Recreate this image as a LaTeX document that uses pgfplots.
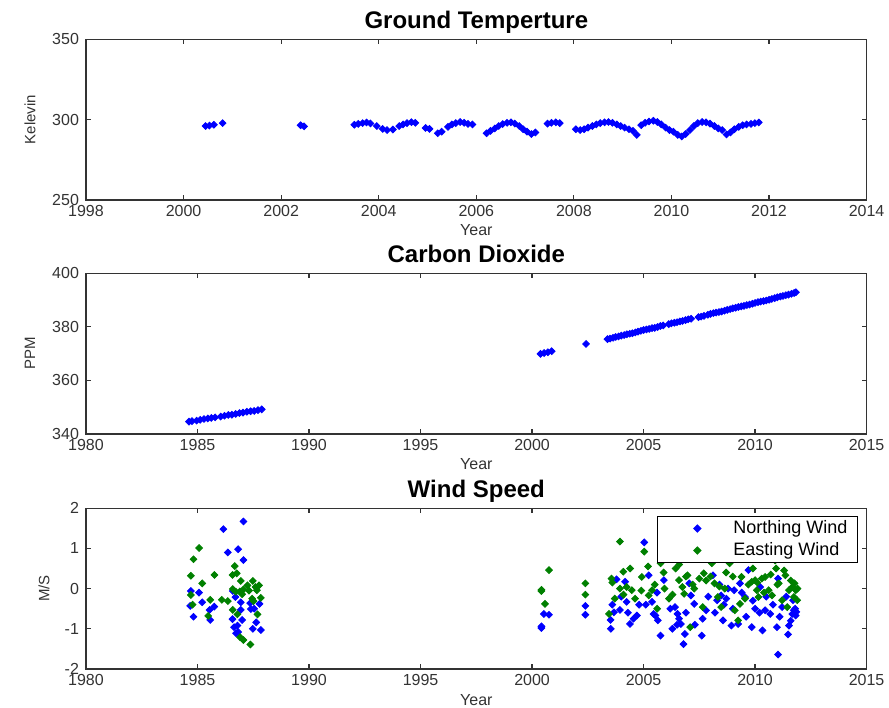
\documentclass[border=0pt]{standalone}
\usepackage{fontspec}
\setmainfont{Liberation Sans}
\usepackage{pgfplots}
\pgfplotsset{compat=1.18}

\definecolor{mblue}{rgb}{0,0,1}
\definecolor{mgreen}{rgb}{0,0.5,0}
\definecolor{axgray}{rgb}{0.2,0.2,0.2}

\pgfplotsset{
  every axis title shift=0pt,
  mstyle/.style={
    scale only axis, width=390.3pt, height=80.4pt, anchor=south west,
    axis line style={axgray, line width=0.6pt},
    tick style={axgray, line width=0.6pt},
    major tick length=2.5pt,
    tick align=inside,
    minor tick num=0,
    tick label style={font=\fontsize{8}{9}\selectfont, text=axgray},
    /pgf/number format/assume math mode=true,
    /pgf/number format/1000 sep={},
    xticklabel style={anchor=base, yshift=-8.5pt},
    xlabel={Year},
    xlabel style={at={(axis description cs:0.5,0)}, anchor=base, yshift=-18pt, font=\fontsize{8}{9}\selectfont, text=axgray},
    ylabel style={font=\fontsize{7.5}{9}\selectfont, text=axgray},
    title style={at={(axis description cs:0.5,1)}, anchor=base, yshift=5.5pt, font=\fontsize{12}{13}\selectfont\bfseries},
  },
  dots/.style={only marks, mark=square*, mark size=1.2pt, color=#1,
    mark options={fill=#1, draw=#1, rotate=45},
    legend image code/.code={\path[draw=none, fill=none] (0pt,0pt) -- (33pt,0pt);
      \draw[##1, only marks] plot coordinates {(17pt,0pt)};}},
}

\begin{document}
\begin{tikzpicture}
\path[use as bounding box] (0,0) rectangle (444.5pt,353.5pt);

% Ground temperature
\begin{axis}[mstyle, at={(43pt,253.5pt)},
  title={Ground Temperture},
  ylabel={Kelevin},
  ylabel style={at={([xshift=-28pt]axis description cs:0,0.5)}, anchor=center},
  xmin=1998, xmax=2014, ymin=250, ymax=350,
  xtick={1998,2000,...,2014}, ytick={250,300,350}]
\addplot[dots=mblue] coordinates {
(2000.45,296.0) (2000.53,296.3) (2000.62,296.8) (2000.80,297.8)
(2002.40,296.5) (2002.47,295.8)
(2003.50,296.8) (2003.58,297.3) (2003.67,297.8) (2003.75,298.2) (2003.83,297.6)
(2003.96,296.0) (2004.08,294.2) (2004.17,293.5) (2004.29,293.8) (2004.42,296.0)
(2004.50,297.0) (2004.58,297.8) (2004.67,298.4) (2004.75,298.0) (2004.96,294.8)
(2005.04,294.2) (2005.21,291.5) (2005.29,292.5) (2005.42,295.5) (2005.50,297.0)
(2005.58,297.8) (2005.67,298.5) (2005.75,298.0) (2005.83,297.3) (2005.92,297.0)
(2006.21,291.5) (2006.29,293.0) (2006.38,294.5) (2006.46,296.0) (2006.54,297.2)
(2006.63,298.0) (2006.71,298.3) (2006.79,297.5) (2006.88,296.0) (2006.96,294.0)
(2007.04,292.5) (2007.13,291.0) (2007.21,292.0) (2007.46,297.5) (2007.54,298.0)
(2007.63,298.3) (2007.71,297.8) (2008.04,294.0) (2008.13,293.5) (2008.21,294.0)
(2008.29,295.0) (2008.38,296.0) (2008.46,297.0) (2008.54,297.8) (2008.63,298.3)
(2008.71,298.5) (2008.79,298.0) (2008.88,297.0) (2008.96,296.0) (2009.04,295.0)
(2009.13,294.0) (2009.21,293.0) (2009.29,290.5) (2009.38,296.5) (2009.46,298.0)
(2009.54,298.8) (2009.63,299.3) (2009.71,298.5) (2009.79,297.0) (2009.88,295.0)
(2009.96,293.5) (2010.04,292.5) (2010.13,290.5) (2010.21,289.5) (2010.29,291.0)
(2010.38,293.5) (2010.46,296.0) (2010.54,297.8) (2010.63,298.5) (2010.71,298.3)
(2010.79,297.5) (2010.88,296.0) (2010.96,294.5) (2011.04,293.5) (2011.13,290.8)
(2011.21,292.0) (2011.29,294.0) (2011.38,295.5) (2011.46,296.5) (2011.54,297.0)
(2011.63,297.3) (2011.71,297.8) (2011.79,298.2)
};
\end{axis}

% Carbon dioxide
\begin{axis}[mstyle, at={(43pt,136.5pt)},
  title={Carbon Dioxide},
  ylabel={PPM},
  ylabel style={at={([xshift=-28pt]axis description cs:0,0.5)}, anchor=center},
  xmin=1980, xmax=2015, ymin=340, ymax=400,
  xtick={1980,1985,...,2015}, ytick={340,360,380,400}]
\addplot[dots=mblue] coordinates {
(1984.62,344.6) (1984.75,344.8) (1984.96,345.0) (1985.12,345.3) (1985.29,345.6)
(1985.46,345.8) (1985.62,346.0) (1985.79,346.2) (1986.04,346.5) (1986.21,346.8)
(1986.38,347.1) (1986.54,347.2) (1986.71,347.5) (1986.88,347.8) (1987.04,348.0)
(1987.21,348.3) (1987.38,348.5) (1987.54,348.6) (1987.71,348.9) (1987.88,349.2)
(2000.38,369.9) (2000.54,370.2) (2000.71,370.5) (2000.88,370.9)
(2002.42,373.6)
(2003.38,375.4) (2003.50,375.6) (2003.63,375.9) (2003.75,376.2) (2003.88,376.4)
(2004.00,376.7) (2004.13,376.9) (2004.25,377.2) (2004.38,377.4) (2004.50,377.6)
(2004.63,377.9) (2004.75,378.2) (2004.88,378.5) (2005.00,378.8) (2005.13,379.0)
(2005.25,379.2) (2005.38,379.5) (2005.50,379.6) (2005.63,379.9) (2005.75,380.3)
(2005.88,380.5) (2006.13,381.0) (2006.25,381.3) (2006.38,381.5) (2006.50,381.7)
(2006.63,382.0) (2006.75,382.2) (2006.88,382.5) (2007.00,382.8) (2007.13,383.0)
(2007.46,383.6) (2007.58,383.8) (2007.71,384.1) (2007.88,384.5) (2008.00,384.8)
(2008.13,385.1) (2008.25,385.3) (2008.38,385.5) (2008.50,385.7) (2008.63,386.0)
(2008.75,386.3) (2008.88,386.6) (2009.00,386.9) (2009.13,387.1) (2009.25,387.4)
(2009.38,387.6) (2009.50,387.8) (2009.63,388.1) (2009.75,388.3) (2009.88,388.6)
(2010.00,388.9) (2010.13,389.2) (2010.25,389.4) (2010.38,389.6) (2010.50,389.8)
(2010.63,390.1) (2010.75,390.4) (2010.88,390.7) (2011.00,391.0) (2011.13,391.3)
(2011.25,391.5) (2011.38,391.8) (2011.50,392.0) (2011.63,392.3) (2011.75,392.6)
(2011.83,392.9)
};
\end{axis}

% Wind speed
\begin{axis}[mstyle, at={(43pt,19pt)},
  title={Wind Speed},
  ylabel={M/S},
  ylabel style={at={([xshift=-21pt]axis description cs:0,0.5)}, anchor=center},
  xmin=1980, xmax=2015, ymin=-2, ymax=2,
  xtick={1980,1985,...,2015}, ytick={-2,-1,0,1,2},
  legend style={at={(0.989,0.952)}, anchor=north east, draw=black, line width=0.6pt,
    font=\fontsize{9}{10}\selectfont, row sep=-1pt, inner xsep=3pt, inner ysep=0pt,
    /tikz/every even column/.append style={column sep=0pt}},
  legend cell align=left]
\addplot[dots=mblue] coordinates {
(1986.16,1.48) (1987.06,1.67) (1986.36,0.90) (1986.82,0.98) (1987.06,0.71)
(1984.70,-0.06) (1985.07,-0.10) (1984.67,-0.43) (1984.82,-0.70) (1985.21,-0.34)
(1985.54,-0.53) (1985.75,-0.45) (1985.57,-0.78) (1986.58,-0.06) (1986.70,-0.21)
(1986.94,-0.34) (1986.94,-0.53) (1986.57,-0.76) (1987.00,-0.78) (1986.64,-0.96)
(1986.79,-0.92) (1986.73,-1.11) (1986.82,-1.08) (1987.36,-0.36) (1987.39,-0.51)
(1987.54,-0.50) (1987.78,-0.38) (1987.63,-0.84) (1987.48,-1.00) (1987.84,-1.03)
(2000.42,-0.94) (2000.42,-0.98) (2000.53,-0.63) (2000.76,-0.65) (2002.39,-0.43)
(2002.39,-0.65)
(2003.53,-1.00) (2003.52,-0.78) (2003.67,-0.59) (2003.79,0.23) (2003.94,-0.53)
(2004.17,0.17) (2004.24,-0.33) (2004.39,-0.88) (2004.55,-0.75) (2004.70,-0.67)
(2005.03,1.15) (2005.23,0.33) (2005.38,-0.33) (2005.45,-0.63) (2005.53,-0.67)
(2005.64,-0.79) (2005.76,-1.17) (2005.91,0.21) (2006.29,-1.00) (2006.41,-0.46)
(2006.52,-0.63) (2006.59,-0.75) (2006.67,-0.88) (2006.79,-1.38) (2006.85,-1.13)
(2007.05,0.13) (2007.12,-0.17) (2007.27,-0.38) (2007.61,-1.17) (2007.65,-0.75)
(2007.80,-0.54) (2008.11,0.33) (2008.30,-0.29) (2008.48,-0.17) (2008.56,-0.79)
(2008.71,-0.25) (2008.79,0.00) (2008.94,-0.92) (2009.06,-0.04) (2009.24,-0.88)
(2009.32,0.13) (2009.55,-0.21) (2009.70,0.46) (2009.85,-0.96) (2010.00,-0.50)
(2010.23,0.04) (2010.33,-1.04) (2010.45,-0.54) (2010.68,-0.63) (2010.98,-0.96)
(2011.03,0.25) (2011.03,-1.64) (2011.21,-0.46) (2011.48,-1.14) (2011.52,-0.92)
(2011.67,-0.63) (2011.74,-0.54) (2011.82,-0.67) (2011.85,-0.58) (2011.70,-0.29)
(2004.00,-0.20) (2004.80,-0.40) (2005.60,-0.10) (2006.20,-0.50) (2006.50,-0.90)
(2006.90,-0.60) (2007.30,-0.90) (2007.90,-0.20) (2008.20,-0.60) (2008.40,0.10)
(2008.60,-0.40) (2009.00,-0.50) (2009.40,-0.10) (2009.60,-0.70) (2009.90,-0.30)
(2010.20,-0.60) (2010.50,-0.20) (2010.80,-0.40) (2011.10,-0.70) (2011.40,-0.20)
(2011.60,-0.80) (2011.80,-0.50) (2005.10,-0.40) (2004.30,-0.60) (2003.60,-0.40)
};
\addlegendentry{Northing Wind}
\addplot[dots=mgreen] coordinates {
(1984.82,0.73) (1985.07,1.01) (1984.70,0.32) (1985.21,0.13) (1985.76,0.34)
(1984.70,-0.16) (1984.78,-0.40) (1985.57,-0.28) (1985.48,-0.68) (1986.67,0.56)
(1986.57,0.34) (1986.76,0.38) (1986.94,0.19) (1986.09,-0.28) (1986.36,-0.31)
(1986.58,-0.01) (1986.72,-0.08) (1986.90,-0.07) (1987.00,-0.14) (1987.06,-0.02)
(1987.24,0.08) (1987.31,-0.05) (1987.48,0.19) (1987.60,0.04) (1987.76,0.08)
(1987.66,-0.04) (1987.45,-0.25) (1987.51,-0.31) (1987.84,-0.23) (1986.58,-0.53)
(1986.79,-0.64) (1987.69,-0.64) (1986.91,-1.21) (1987.06,-1.28) (1987.37,-1.39)
(2000.42,-0.03) (2000.42,-0.06) (2000.58,-0.38) (2000.76,0.46) (2002.39,0.13)
(2002.39,-0.15)
(2003.94,1.17) (2003.56,0.25) (2003.45,-0.63) (2003.71,-0.25) (2003.94,0.00)
(2004.09,0.42) (2004.24,0.04) (2004.47,-0.04) (2004.62,-0.25) (2005.03,0.92)
(2004.92,0.29) (2005.23,-0.17) (2005.38,-0.04) (2005.61,-0.50) (2005.76,0.63)
(2005.94,0.00) (2006.14,-0.25) (2006.44,0.50) (2006.59,0.21) (2006.74,0.04)
(2006.82,-0.13) (2006.97,0.33) (2007.09,-0.96) (2007.27,0.00) (2007.50,0.25)
(2007.65,-0.46) (2007.70,0.38) (2008.06,0.63) (2008.18,0.13) (2008.33,-0.21)
(2008.48,-0.46) (2008.64,0.00) (2008.86,0.63) (2009.09,-0.54) (2009.24,-0.79)
(2009.39,0.29) (2009.55,-0.25) (2009.85,0.17) (2010.00,0.21) (2010.15,-0.21)
(2010.30,0.25) (2010.45,0.29) (2010.61,-0.04) (2010.76,-0.17) (2010.94,0.50)
(2011.06,0.13) (2011.21,-0.29) (2011.36,0.33) (2011.44,-0.46) (2011.52,-0.04)
(2011.67,0.04) (2011.74,-0.21) (2011.82,-0.04) (2011.89,-0.29) (2011.77,0.13)
(2009.32,-0.38) (2010.08,-0.04)
(2003.60,0.15) (2004.40,0.50) (2004.90,-0.05) (2005.50,0.10) (2005.90,0.40)
(2006.30,-0.15) (2006.60,0.60) (2006.90,0.30) (2007.20,0.10) (2007.80,0.20)
(2008.00,0.30) (2008.40,0.05) (2008.70,0.40) (2009.00,0.30) (2009.70,0.10)
(2009.90,0.50) (2010.10,0.15) (2010.40,-0.10) (2010.70,0.35) (2011.00,0.10)
(2011.30,0.45) (2011.60,0.20) (2011.90,0.00) (2005.20,0.55) (2004.10,-0.15)
(2007.00,0.75) (2008.90,0.90) (2010.90,0.70)
};
\addlegendentry{Easting Wind}
\end{axis}
\end{tikzpicture}
\end{document}
